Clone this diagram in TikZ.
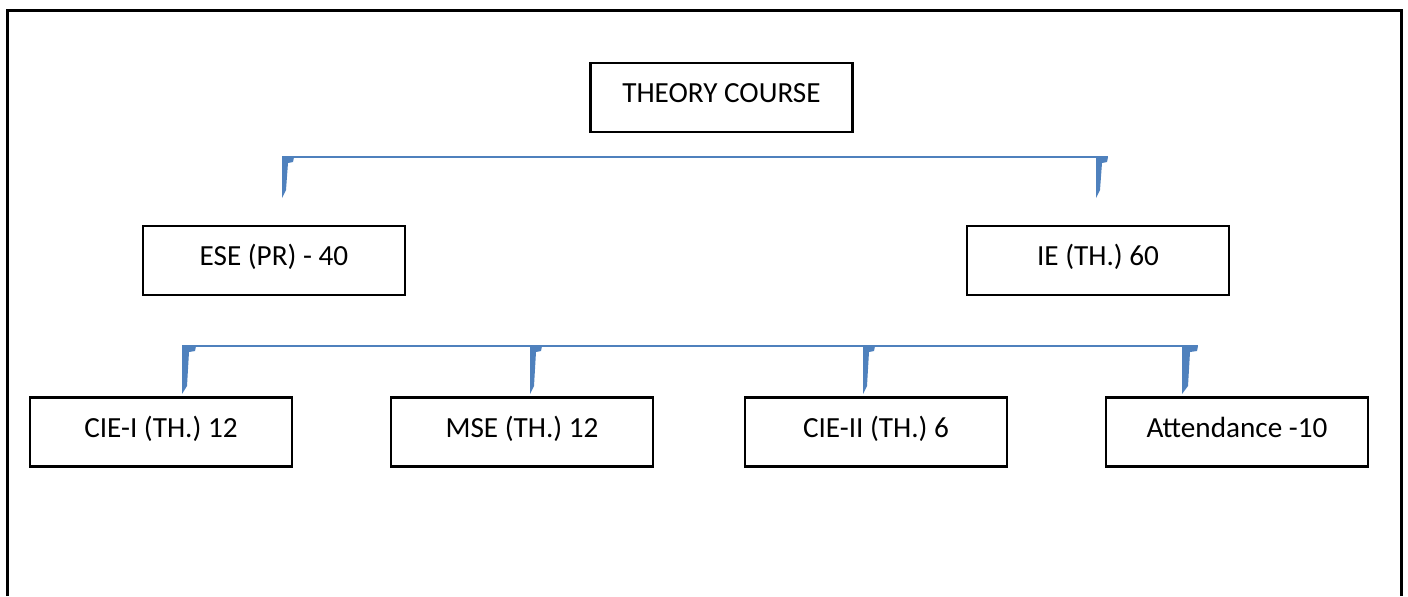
\documentclass[tikz,border=0pt]{standalone}
\usepackage{fontspec}
\setmainfont{Carlito}
\usepackage{tikz}
\definecolor{legblue}{RGB}{79,129,189}
% one tapered leg of a bracket: top left corner, width, height
\newcommand{\bracketleg}[3]{%
  \path[fill=legblue] (#1) -- ++(#2,0) -- ++(-1,5) -- ++({-#2/2+1},1)
    -- ++(-2,{#3-14}) -- ++({-#2/2+2},8) -- ++(0,-#3) -- cycle;}

\begin{document}
\begin{tikzpicture}[x=0.5pt,y=-0.5pt,
  box/.style={draw, line width=1.1pt, minimum width=131pt, minimum height=34.5pt,
    inner sep=0pt, text height=8pt, text depth=2.6pt,
    font=\fontsize{14.6}{16}\selectfont}]
 \useasboundingbox (0,0) rectangle (1408,596);
 %% frame, open at the bottom
 \draw[line width=1.5pt] (7,596) -- (7,10) -- (1401,10) -- (1401,596);

 \node[box] (theory) at (721.5,97.5) {THEORY COURSE};
 \node[box] (ese) at (274,260.5) {ESE (PR) - 40};
 \node[box] (ie) at (1098,260.5) {IE (TH.) 60};

 \node[box] (ciei) at (161,432) {CIE-I (TH.) 12};
 \node[box] (mse) at (522,432) {MSE (TH.) 12};
 \node[box] (cieii) at (876,432) {CIE-II (TH.) 6};
 \node[box] (att) at (1237,432) {Attendance -10};

 %% upper bracket
 \coordinate (legese) at (282,157);
 \coordinate (legie) at (1096,157);
 \draw[legblue, line width=0.8pt] (legese) -- ([xshift=6]legie);
 \bracketleg{legese}{12}{41}
 \bracketleg{legie}{12}{41}

 %% lower bracket
 \coordinate (legciei) at (182,346);
 \coordinate (legmse) at (530,346);
 \coordinate (legcieii) at (863,346);
 \coordinate (legatt) at (1182,346);
 \draw[legblue, line width=0.8pt] (legciei) -- ([xshift=8]legatt);
 \bracketleg{legciei}{14}{48}
 \bracketleg{legmse}{12}{48}
 \bracketleg{legcieii}{12}{48}
 \bracketleg{legatt}{16}{48}
 %%%%%%%%%%%%%%%%%%%%%%%%%%%%%%%%%%%
\end{tikzpicture}
\end{document}
